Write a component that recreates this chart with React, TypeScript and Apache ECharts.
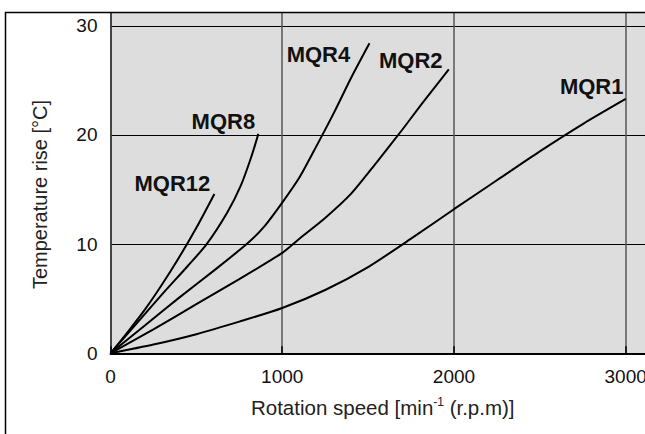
import { useEffect, useRef } from 'react';
import * as echarts from 'echarts';

// Axis ticks
const xTicks = [0, 1000, 2000, 3000];
const yTicks = [0, 10, 20, 30];

// Series names
const seriesNames = ['MQR1', 'MQR2', 'MQR4', 'MQR8', 'MQR12'];

// [rotation speed (min-1), temperature rise (°C)]
const mqr1: number[][] = [
  [0, 0], [250, 0.8], [500, 1.75], [750, 2.9], [1000, 4.15], [1250, 5.8],
  [1500, 7.9], [1750, 10.5], [2000, 13.2], [2250, 15.85], [2500, 18.5],
  [2750, 21.0], [3000, 23.3],
];
const mqr2: number[][] = [
  [0, 0], [250, 2.2], [500, 4.5], [750, 6.8], [1000, 9.2], [1100, 10.5],
  [1250, 12.4], [1400, 14.6], [1550, 17.5], [1700, 20.5], [1825, 23.1],
  [1970, 26.0],
];
const mqr4: number[][] = [
  [0, 0], [200, 2.55], [400, 5.1], [600, 7.55], [800, 10.1], [900, 11.7],
  [1000, 13.8], [1100, 16.1], [1200, 19.0], [1300, 22.0], [1400, 25.2],
  [1508, 28.4],
];
const mqr8: number[][] = [
  [0, 0], [150, 2.7], [300, 5.4], [450, 8.0], [560, 10.0], [680, 12.9],
  [760, 15.4], [820, 18.0], [861, 20.1],
];
const mqr12: number[][] = [
  [0, 0], [100, 1.95], [200, 4.0], [300, 6.3], [400, 8.8], [500, 11.5],
  [605, 14.6],
];

const seriesData = [mqr1, mqr2, mqr4, mqr8, mqr12];

const FONT = "'Liberation Sans', Arial, sans-serif";
const labelOffsets: number[][] = [
  [-34, -12],
  [-38, -9],
  [-51, 11],
  [-35, -12],
  [-42, -10],
];

export default function App() {
  const ref = useRef<HTMLDivElement>(null);
  useEffect(() => {
    if (!ref.current) return;
    const chart = echarts.init(ref.current, undefined, { renderer: 'svg' });
    const gridLeft = 110.5;
    const gridRight = -20;
    const pxPerUnit = 0.1717;
    const xMax = Math.round((645 - gridRight - gridLeft) / pxPerUnit);
    const yMax = 31.2;
    chart.setOption({
      animation: false,
      grid: {
        left: gridLeft,
        top: 12.7,
        right: gridRight,
        bottom: 434 - 353.3,
        outerBoundsMode: 'none',
        containLabel: false,
        show: true,
        backgroundColor: '#dddddd',
        borderWidth: 0,
      },
      xAxis: {
        type: 'value',
        min: 0,
        max: xMax,
        interval: 1000,
        axisLine: { show: true, lineStyle: { color: '#000', width: 2 } },
        axisTick: { show: true, inside: true, length: 7, lineStyle: { color: '#000', width: 1.5 } },
        splitLine: { show: true, lineStyle: { color: '#555', width: 1.5 } },
        axisLabel: {
          fontSize: 19,
          color: '#111',
          fontFamily: FONT,
          margin: 14,
          formatter: (v: number) => (xTicks.includes(v) ? String(v) : ''),
        },
        name: '{a|Rotation speed [min}{s|-1}{a| (r.p.m)]}',
        nameLocation: 'middle',
        nameGap: 43,
        nameTextStyle: {
          padding: [0, 10, 0, 0],
          rich: {
            a: { fontSize: 20.5, color: '#222', fontFamily: FONT, lineHeight: 23 },
            s: { fontSize: 12, color: '#222', fontFamily: FONT, verticalAlign: 'top', lineHeight: 23, padding: [0, 0, 8, 0] },
          },
        },
      },
      yAxis: {
        type: 'value',
        min: 0,
        max: yMax,
        interval: 10,
        axisLine: { show: true, lineStyle: { color: '#333', width: 1.5 } },
        axisTick: { show: false },
        splitLine: { show: true, lineStyle: { color: '#000', width: 1.2 } },
        axisLabel: {
          fontSize: 19,
          color: '#111',
          fontFamily: FONT,
          margin: 13,
          formatter: (v: number) => (yTicks.includes(v) ? String(v) : ''),
        },
        name: 'Temperature rise [°C]',
        nameLocation: 'middle',
        nameGap: 61,
        nameTextStyle: { fontSize: 20, color: '#222', fontFamily: FONT, padding: [0, 0, 0, -23] },
      },
      graphic: [
        {
          type: 'rect',
          shape: { x: 5.5, y: 12.5, width: 800, height: 600 },
          style: { fill: 'none', stroke: '#000', lineWidth: 1.5 },
          z: 100,
        },
      ],
      series: seriesNames.map((name, i) => {
        const d = seriesData[i];
        return {
          name,
          type: 'line',
          data: d,
          smooth: 0.25,
          showSymbol: false,
          lineStyle: { color: '#000', width: 2 },
          z: 3,
          markPoint: {
            symbol: 'circle',
            symbolSize: 1,
            itemStyle: { color: 'rgba(0,0,0,0)' },
            label: {
              show: true,
              position: 'inside',
              formatter: name,
              offset: labelOffsets[i],
              fontSize: 22,
              fontWeight: 'bold',
              color: '#111',
              fontFamily: FONT,
            },
            data: [{ coord: d[d.length - 1] }],
          },
        };
      }),
    });
    return () => chart.dispose();
  }, []);
  return (
    <div
      ref={ref}
      style={{ position: 'fixed', left: 0, top: 0, width: 645, height: 434, background: '#fff' }}
    />
  );
}
